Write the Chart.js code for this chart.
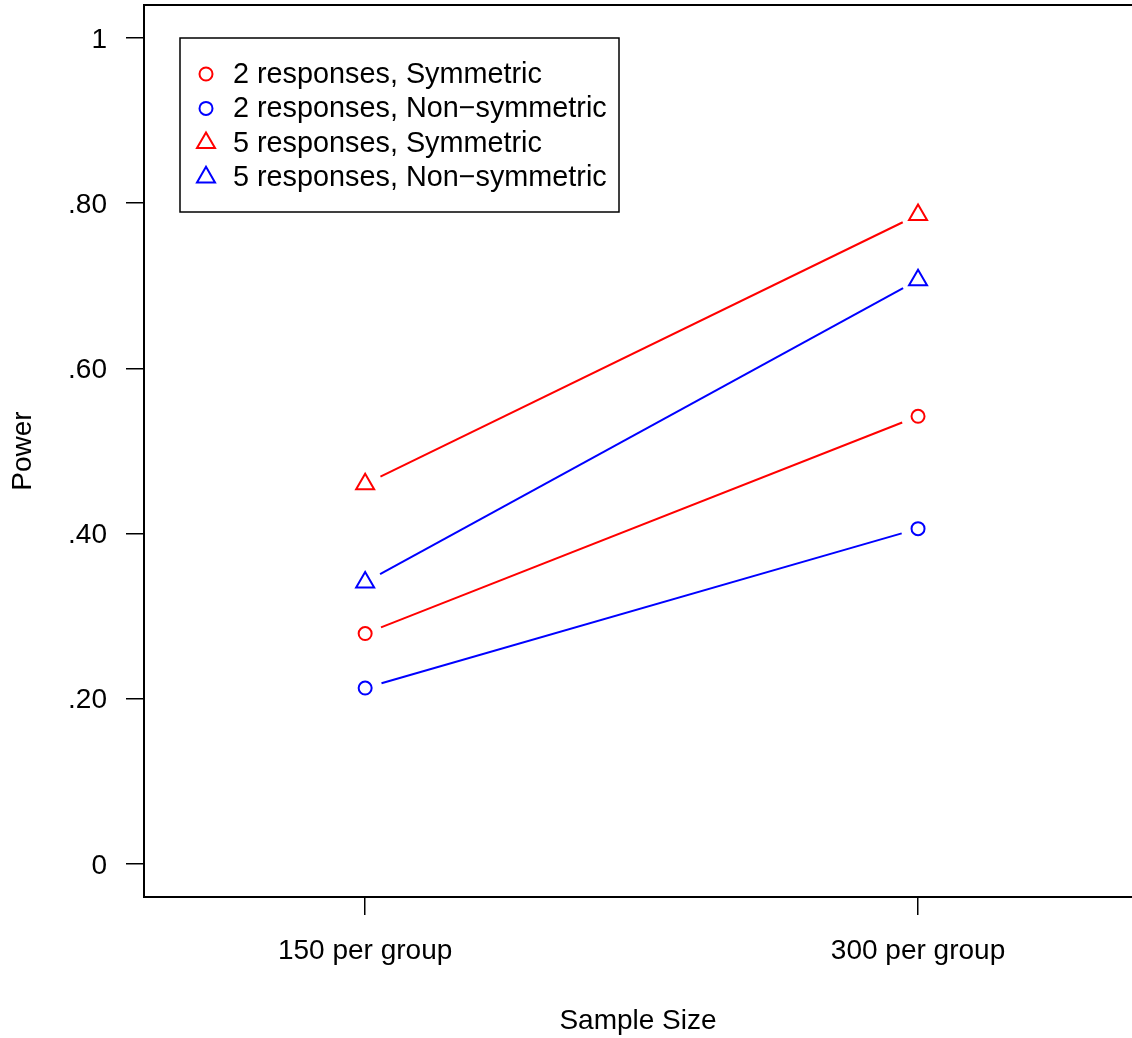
<!DOCTYPE html>
<html>
<head>
<meta charset="utf-8">
<title>Power by Sample Size</title>
<script src="https://cdn.jsdelivr.net/npm/chart.js@4.4.1/dist/chart.umd.min.js"></script>
<style>
  html, body { margin: 0; padding: 0; background: #fff; overflow: hidden; }
  #wrap { width: 1132px; height: 1038px; }
</style>
</head>
<body>
<div id="wrap"><canvas id="c" width="1132" height="1038"></canvas></div>
<script>
// Sample-size groups (x positions 0 and 1 on the axis)
const categories = ['150 per group', '300 per group'];

// Estimated power for each design
const twoSym    = [0.279, 0.542];
const twoNonSym = [0.213, 0.406];
const fiveSym   = [0.460, 0.786];
const fiveNonSym= [0.341, 0.707];

const seriesLabels = [
  '2 responses, Symmetric',
  '2 responses, Non\u2212symmetric',
  '5 responses, Symmetric',
  '5 responses, Non\u2212symmetric'
];

// Y-axis ticks and their printed labels
const yTickValues = [0, 0.2, 0.4, 0.6, 0.8, 1];
const yTickLabels = ['0', '.20', '.40', '.60', '.80', '1'];

const FONT = '"Liberation Sans", Arial, Helvetica, sans-serif';
const FS = 28;
const LEGEND_FS = 28.8;

function toPoints(arr) { return arr.map((v, i) => ({ x: i, y: v })); }

const styles = [
  { color: '#ff0000', shape: 'circle',   r: 6.5 },
  { color: '#0000ff', shape: 'circle',   r: 6.5 },
  { color: '#ff0000', shape: 'triangle', r: 10.4 },
  { color: '#0000ff', shape: 'triangle', r: 10.4 }
];
const values = [twoSym, twoNonSym, fiveSym, fiveNonSym];

const datasets = values.map((vals, k) => ({
  label: seriesLabels[k],
  data: toPoints(vals),
  showLine: false,
  borderColor: styles[k].color,
  backgroundColor: 'rgba(0,0,0,0)',
  pointStyle: styles[k].shape,
  pointRadius: styles[k].r,
  pointBorderWidth: 2,
  pointBorderColor: styles[k].color,
  pointBackgroundColor: 'rgba(0,0,0,0)',
  pointHoverRadius: styles[k].r
}));

// Connect points with line segments that stop short of each marker
const gapLines = {
  id: 'gapLines',
  beforeDatasetsDraw(chart) {
    const ctx = chart.ctx;
    const GAP = 17;
    chart.data.datasets.forEach((ds, i) => {
      const pts = chart.getDatasetMeta(i).data;
      ctx.save();
      ctx.strokeStyle = ds.borderColor;
      ctx.lineWidth = 2;
      for (let j = 0; j < pts.length - 1; j++) {
        const a = pts[j], b = pts[j + 1];
        const dx = b.x - a.x, dy = b.y - a.y;
        const len = Math.hypot(dx, dy);
        const ux = dx / len, uy = dy / len;
        ctx.beginPath();
        ctx.moveTo(a.x + ux * GAP, a.y + uy * GAP);
        ctx.lineTo(b.x - ux * GAP, b.y - uy * GAP);
        ctx.stroke();
      }
      ctx.restore();
    });
  }
};

// Plot frame (left, top, bottom) and the boxed legend
const frameAndLegend = {
  id: 'frameAndLegend',
  afterDraw(chart) {
    const ctx = chart.ctx;
    const a = chart.chartArea;
    ctx.save();
    ctx.strokeStyle = '#000';
    ctx.lineWidth = 2;
    ctx.beginPath();
    ctx.moveTo(a.right + 2, a.top);
    ctx.lineTo(a.left, a.top);
    ctx.lineTo(a.left, a.bottom);
    ctx.lineTo(a.right + 2, a.bottom);
    ctx.stroke();

    // legend box
    const bx = a.left + 36, by = a.top + 33, bw = 439, bh = 174;
    ctx.lineWidth = 1.5;
    ctx.strokeRect(bx, by, bw, bh);
    ctx.font = LEGEND_FS + 'px ' + FONT;
    ctx.textBaseline = 'middle';
    ctx.textAlign = 'left';
    const rowY0 = by + 36, rowH = 34.4;
    chart.data.datasets.forEach((ds, i) => {
      const y = rowY0 + i * rowH;
      const sx = bx + 26;
      ctx.strokeStyle = ds.pointBorderColor;
      ctx.lineWidth = 2;
      ctx.beginPath();
      if (ds.pointStyle === 'circle') {
        ctx.arc(sx, y, 6.5, 0, Math.PI * 2);
      } else {
        const r = 10.4;
        ctx.moveTo(sx, y - r);
        ctx.lineTo(sx + r * Math.sqrt(3) / 2, y + r / 2);
        ctx.lineTo(sx - r * Math.sqrt(3) / 2, y + r / 2);
        ctx.closePath();
      }
      ctx.stroke();
      ctx.fillStyle = '#000';
      ctx.fillText(ds.label, bx + 53, y + 1);
    });
    ctx.restore();
  }
};

new Chart(document.getElementById('c'), {
  type: 'scatter',
  data: { datasets },
  options: {
    responsive: false,
    animation: false,
    events: [],
    layout: { padding: { left: 0, right: 0, top: 5, bottom: 0 }, autoPadding: false },
    plugins: {
      legend: { display: false },
      tooltip: { enabled: false }
    },
    scales: {
      x: {
        type: 'linear',
        min: -0.4,
        max: 1.387,
        afterFit(scale) {
          scale.height = 141;
          scale.paddingLeft = 0; scale.paddingRight = 0;
          scale.paddingTop = 0; scale.paddingBottom = 0;
        },
        afterBuildTicks(scale) { scale.ticks = categories.map((c, i) => ({ value: i })); },
        grid: { display: true, drawOnChartArea: false, drawTicks: true, tickLength: 18, color: '#000', lineWidth: 1.5 },
        border: { display: false },
        ticks: {
          color: '#000',
          font: { family: FONT, size: FS },
          padding: 19,
          maxRotation: 0,
          autoSkip: false,
          callback: (v) => categories[Math.round(v)]
        },
        title: {
          display: true,
          text: 'Sample Size',
          color: '#000',
          font: { family: FONT, size: FS },
          padding: { top: 0, bottom: 0 }
        }
      },
      y: {
        min: -0.04,
        max: 1.04,
        afterFit(scale) {
          scale.width = 144;
          scale.paddingLeft = 0; scale.paddingRight = 0;
          scale.paddingTop = 0; scale.paddingBottom = 0;
        },
        afterBuildTicks(scale) { scale.ticks = yTickValues.map(v => ({ value: v })); },
        grid: { display: true, drawOnChartArea: false, drawTicks: true, tickLength: 18, color: '#000', lineWidth: 1.5 },
        border: { display: false },
        ticks: {
          color: '#000',
          font: { family: FONT, size: FS },
          padding: 19,
          labelOffset: 2,
          autoSkip: false,
          callback: (v) => {
            const k = yTickValues.findIndex(t => Math.abs(t - v) < 1e-9);
            return k >= 0 ? yTickLabels[k] : '';
          }
        },
        title: {
          display: true,
          text: 'Power',
          color: '#000',
          font: { family: FONT, size: FS },
          padding: { top: 6, bottom: 0 }
        }
      }
    }
  },
  plugins: [gapLines, frameAndLegend]
});
</script>
</body>
</html>
